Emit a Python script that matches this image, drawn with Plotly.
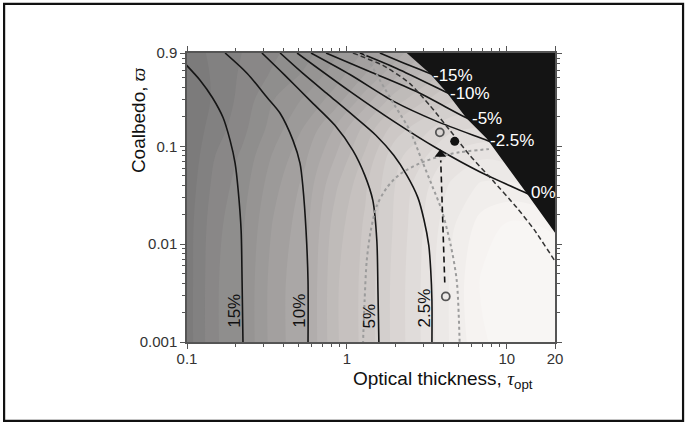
import numpy as np
import plotly.graph_objects as go

# ---------------- data ----------------
# background shading (grey level) on a coarse grid
tau_nodes = [0.1, 0.15, 0.22, 0.35, 0.55, 0.85, 1.3, 2, 3, 4.5, 7, 11, 20]
coalbedo_nodes = [0.001, 0.004, 0.015, 0.04, 0.08, 0.15, 0.3, 0.55, 0.9]
shade_grid = [
    [124, 138, 145, 160, 168, 186, 195, 207, 218, 230, 240, 245, 246],
    [124, 138, 145, 160, 168, 186, 195, 207, 218, 230, 242, 246, 247],
    [124, 137, 144, 158, 167, 184, 194, 206, 217, 228, 238, 243, 240],
    [123, 135, 142, 155, 165, 180, 192, 205, 215, 224, 230, 230, 225],
    [122, 133, 140, 152, 162, 175, 188, 203, 210, 218, 222, 220, 220],
    [122, 130, 137, 148, 158, 170, 183, 196, 203, 210, 212, 212, 212],
    [122, 128, 135, 145, 152, 160, 172, 184, 192, 198, 200, 200, 200],
    [123, 128, 134, 140, 146, 154, 163, 173, 182, 190, 195, 195, 195],
    [125, 128, 133, 138, 143, 150, 158, 166, 175, 185, 190, 190, 190],
]

# contour lines (optical thickness, coalbedo)
c15_tau = [0.098, 0.121, 0.144, 0.168, 0.186, 0.200, 0.209, 0.218, 0.221, 0.224]
c15_cb = [0.69, 0.472, 0.316, 0.197, 0.115, 0.067, 0.0354, 0.0138, 0.00425, 0.00095]
c10_tau = [0.173, 0.238, 0.317, 0.382, 0.460, 0.509, 0.531, 0.555, 0.571, 0.571]
c10_cb = [0.9, 0.556, 0.316, 0.218, 0.115, 0.067, 0.038, 0.0138, 0.00425, 0.00095]
c5_tau = [0.294, 0.410, 0.587, 0.841, 1.089, 1.294, 1.452, 1.538, 1.563, 1.585]
c5_cb = [0.9, 0.531, 0.295, 0.164, 0.091, 0.0505, 0.028, 0.0109, 0.00337, 0.00095]
c2p5_tau = [0.382, 0.540, 0.760, 1.074, 1.517, 1.963, 2.371, 2.774, 3.027, 3.25, 3.34, 3.40, 3.40]
c2p5_cb = [0.9, 0.543, 0.340, 0.212, 0.130, 0.081, 0.0505, 0.0301, 0.018, 0.0097, 0.0055, 0.00266, 0.00095]
c0_tau = [0.488, 1.044, 1.963, 3.648, 6.855, 13.3, 15.5]
c0_cb = [0.9, 0.365, 0.180, 0.0955, 0.0543, 0.0332, 0.0296]
cm2p5_tau = [0.596, 1.044, 1.963, 3.648, 7.48, 8.4]
cm2p5_cb = [0.9, 0.543, 0.288, 0.180, 0.1155, 0.107]
cm5_tau = [0.740, 1.432, 2.70, 5.37, 6.29]
cm5_cb = [0.9, 0.570, 0.365, 0.202, 0.180]
cm10_tau = [1.205, 2.05, 4.21, 4.72]
cm10_cb = [0.9, 0.626, 0.355, 0.325]
cm15_tau = [1.607, 2.30, 3.30, 3.70]
cm15_cb = [0.9, 0.703, 0.556, 0.519]

# black (excluded) region boundary
black_tau = [2.2, 2.37, 3.30, 4.21, 5.61, 7.48, 9.97, 13.3, 20, 22, 22]
black_cb = [1.0, 0.9, 0.556, 0.355, 0.193, 0.120, 0.064, 0.0332, 0.0131, 0.011, 1.0]

# dashed black curve
dash_tau = [1.09, 1.68, 2.47, 3.30, 4.40, 5.86, 8.15, 11.5, 14.9, 19.9, 21]
dash_cb = [0.9, 0.672, 0.44, 0.262, 0.146, 0.081, 0.0449, 0.0238, 0.0139, 0.0068, 0.006]

# grey dotted curves
dot1_tau = [1.26, 1.29, 1.33, 1.41, 1.54, 1.78, 2.14, 2.86, 3.81, 5.07, 7.48, 8.0]
dot1_cb = [0.00095, 0.00266, 0.0068, 0.0138, 0.0249, 0.038, 0.0518, 0.0671, 0.079, 0.087, 0.0933, 0.094]
dot2_tau = [1.29, 1.61, 1.99, 2.47, 2.94, 3.40, 3.92, 4.46, 4.86, 5.07]
dot2_cb = [0.9, 0.472, 0.262, 0.146, 0.072, 0.040, 0.0221, 0.0097, 0.00425, 0.00095]

# points and arrow
open_tau = [3.81, 4.15]
open_cb = [0.139, 0.00292]
filled_tau = [4.72]
filled_cb = [0.1125]
arrow_tau = [4.09, 3.86]
arrow_cb = [0.00406, 0.0719]
arrowhead_tau = [3.84]
arrowhead_cb = [0.0828]

# labels
rot_lab_text = ["15%", "10%", "5%", "2.5%"]
rot_lab_tau = [0.200, 0.509, 1.39, 3.07]
rot_lab_cb = [0.00209, 0.00209, 0.00186, 0.00225]
neg_lab_text = ["-15%", "-10%", "-5%", "-2.5%", "0%"]
neg_lab_tau = [3.34, 4.27, 5.86, 7.59, 13.7]
neg_lab_cb = [0.533, 0.349, 0.194, 0.115, 0.0338]

x_major = [0.1, 1, 10, 20]
x_major_text = ["0.1", "1", "10", "20"]
y_major = [0.001, 0.01, 0.1, 0.9]
y_major_text = ["0.001", "0.01", "0.1", "0.9"]

# ---------------- figure ----------------
fig = go.Figure()

fig.add_trace(go.Contour(
    x=tau_nodes, y=coalbedo_nodes, z=shade_grid,
    zmin=105, zmax=245,
    colorscale=[[0, "rgb(114,114,114)"], [0.357, "rgb(163,160,159)"],
                [0.643, "rgb(205,200,198)"], [0.857, "rgb(234,230,228)"],
                [1, "rgb(248,246,244)"]],
    contours=dict(coloring="fill", showlines=False, start=115, end=250, size=6),
    line=dict(width=0, smoothing=1.0),
    showscale=False, hoverinfo="skip",
))

line_sets = [
    (c15_tau, c15_cb), (c10_tau, c10_cb), (c5_tau, c5_cb), (c2p5_tau, c2p5_cb),
    (c0_tau, c0_cb), (cm2p5_tau, cm2p5_cb), (cm5_tau, cm5_cb),
    (cm10_tau, cm10_cb), (cm15_tau, cm15_cb),
]
for tx, cy in line_sets:
    fig.add_trace(go.Scatter(x=tx, y=cy, mode="lines",
                             line=dict(color="#151515", width=1.6, shape="spline", smoothing=0.8),
                             hoverinfo="skip", showlegend=False))

for tx, cy in [(dot1_tau, dot1_cb), (dot2_tau, dot2_cb)]:
    fig.add_trace(go.Scatter(x=tx, y=cy, mode="lines",
                             line=dict(color="#9c9c9c", width=2, dash="dot", shape="spline", smoothing=0.8),
                             hoverinfo="skip", showlegend=False))

fig.add_trace(go.Scatter(x=dash_tau, y=dash_cb, mode="lines",
                         line=dict(color="#333333", width=1.5, dash="5px,3px", shape="spline", smoothing=0.6),
                         hoverinfo="skip", showlegend=False))

fig.add_trace(go.Scatter(x=black_tau, y=black_cb, mode="lines", fill="toself",
                         fillcolor="#141414", line=dict(width=0, color="#141414"),
                         hoverinfo="skip", showlegend=False))

fig.add_trace(go.Scatter(x=arrow_tau, y=arrow_cb, mode="lines",
                         line=dict(color="#111111", width=1.6, dash="6px,4px"),
                         hoverinfo="skip", showlegend=False))
fig.add_trace(go.Scatter(x=arrowhead_tau, y=arrowhead_cb, mode="markers",
                         marker=dict(symbol="triangle-up", size=10, color="#111111"),
                         hoverinfo="skip", showlegend=False))
fig.add_trace(go.Scatter(x=open_tau, y=open_cb, mode="markers",
                         marker=dict(symbol="circle-open", size=8, color="#555555",
                                     line=dict(width=1.8, color="#555555")),
                         hoverinfo="skip", showlegend=False))
fig.add_trace(go.Scatter(x=filled_tau, y=filled_cb, mode="markers",
                         marker=dict(symbol="circle", size=9, color="#111111"),
                         hoverinfo="skip", showlegend=False))

FONT = "Liberation Sans, Arial, Helvetica, sans-serif"
SERIF = "Liberation Serif, Times New Roman, serif"
annotations = []
for t, x, y in zip(rot_lab_text, rot_lab_tau, rot_lab_cb):
    annotations.append(dict(x=np.log10(x), y=np.log10(y), xref="x", yref="y", text=t,
                            showarrow=False, textangle=-90, xanchor="center", yanchor="middle",
                            font=dict(family=FONT, size=17, color="#111111")))
for t, x, y in zip(neg_lab_text, neg_lab_tau, neg_lab_cb):
    annotations.append(dict(x=np.log10(x), y=np.log10(y), xref="x", yref="y", text=t,
                            showarrow=False, xanchor="left", yanchor="middle",
                            font=dict(family=FONT, size=17, color="#ffffff")))
annotations.append(dict(x=0.697, y=-0.131, xref="paper", yref="paper",
                        text=("Optical thickness, <span style='font-family:" + SERIF +
                              "'><i>τ</i></span><sub>opt</sub>"),
                        showarrow=False, xanchor="center", yanchor="middle",
                        font=dict(family=FONT, size=19, color="#111111")))
annotations.append(dict(x=-0.133, y=0.768, xref="paper", yref="paper",
                        text=("Coalbedo, <span style='font-family:" + SERIF +
                              "'><i>ϖ</i></span>"),
                        showarrow=False, textangle=-90,
                        xanchor="center", yanchor="middle",
                        font=dict(family=FONT, size=19, color="#111111")))

x_minor = [m * d for d in (0.1, 1) for m in range(2, 10)]
y_minor = [m * d for d in (0.001, 0.01) for m in range(2, 10)] + [m * 0.1 for m in range(2, 9)]

axis_common = dict(type="log", showgrid=False, zeroline=False, showline=True,
                   linecolor="#555555", linewidth=1.5, mirror="ticks",
                   ticks="outside", ticklen=5, tickwidth=1.3, tickcolor="#555555",
                   tickfont=dict(family=FONT, size=15, color="#333333"))

fig.update_xaxes(range=[-1, np.log10(20)], tickmode="array", tickvals=x_major,
                 ticktext=x_major_text, ticklabelstandoff=-3,
                 minor=dict(tickmode="array", tickvals=x_minor, ticks="outside",
                            ticklen=3, tickwidth=1, tickcolor="#555555"),
                 **axis_common)
fig.update_yaxes(range=[-3, np.log10(0.9)], tickmode="array", tickvals=y_major,
                 ticktext=y_major_text,
                 minor=dict(tickmode="array", tickvals=y_minor, ticks="outside",
                            ticklen=3, tickwidth=1, tickcolor="#555555"),
                 **axis_common)

fig.update_layout(
    width=686, height=426,
    margin=dict(l=187, r=131, t=53, b=84),
    paper_bgcolor="white", plot_bgcolor="white",
    showlegend=False,
    annotations=annotations,
    shapes=[dict(type="rect", xref="paper", yref="paper",
                 x0=-0.497, x1=1.348, y0=-0.273, y1=1.170,
                 line=dict(color="#111111", width=2.2), fillcolor="rgba(0,0,0,0)")],
)

fig.write_html("out.html", config={"displayModeBar": False},
               post_script="document.body.style.margin='0px';document.body.style.overflow='hidden';")
